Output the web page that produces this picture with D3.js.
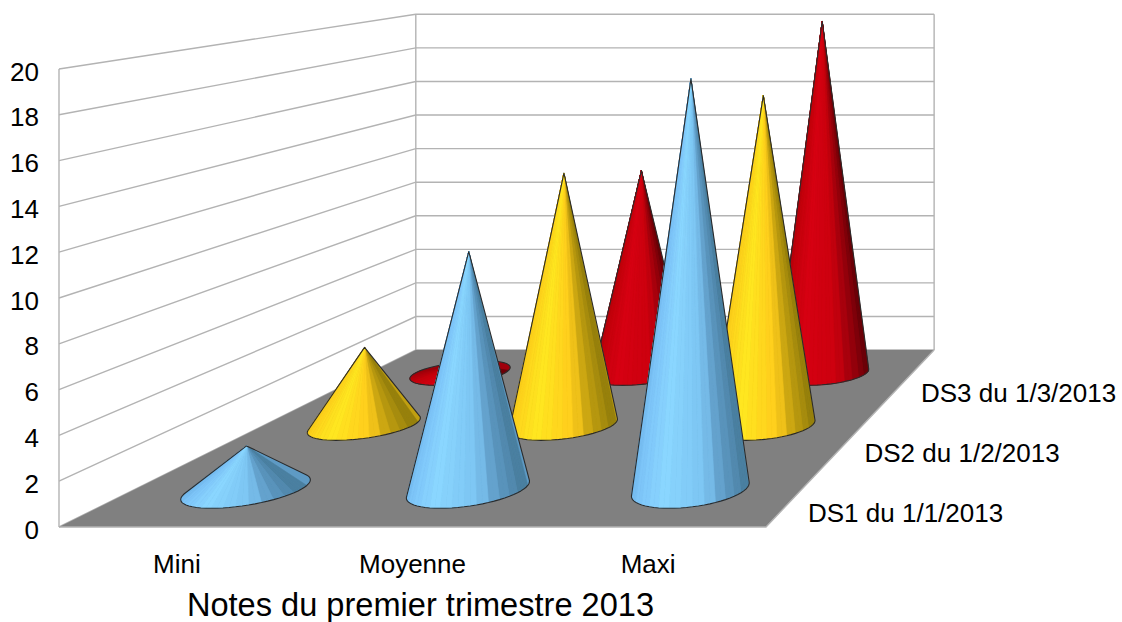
<!DOCTYPE html>
<html><head><meta charset="utf-8">
<style>html,body{margin:0;padding:0;background:#fff}svg{display:block}text{font-family:"Liberation Sans",Arial,sans-serif;fill:#000}</style>
<script src="https://cdn.jsdelivr.net/npm/d3@7"></script></head><body><svg id="c" width="1122" height="622"></svg>
<script>
const categories=["Mini","Moyenne","Maxi"];
const seriesNames=["DS1 du 1/1/2013","DS2 du 1/2/2013","DS3 du 1/3/2013"];
const ds1=[2,11,19];
const ds2=[4,13,17];
const ds3=[0.5,11.5,20];
const tickValues=[0,2,4,6,8,10,12,14,16,18,20];
const title="Notes du premier trimestre 2013";
const ramps=[
 ["#4a7fa0","#5e9ac4","#7cc4f2","#8ad6ff","#7cc4f8","#62a8dc"],
 ["#96800c","#c09f10","#ffcc1c","#ffe620","#fdd21c","#f0bc14"],
 ["#6a0008","#a0000c","#cc000f","#d60012","#c4000c","#98000a"]
];
const rampAngles=[5,35,55,95,130,180];

const svg=d3.select("#c");
const VX=1396,VY=-136,DEPTH=0.364;
const xFront=d3.scaleLinear().domain([0,1]).range([59,766]);
const yFront=d3.scaleLinear().domain([0,20]).range([527,69]);
const uScale=d3.scaleBand().domain(categories).range([0,1]);
const vScale=d3.scaleBand().domain(seriesNames).range([0,1]);
const project=(u,v,val)=>{const s=1/(1+DEPTH*v);return [VX+(xFront(u)-VX)*s,VY+(yFront(val)-VY)*s];};
const line=d3.line();
const GRID="#b3b3b3";

// walls
svg.selectAll(".gl").data(tickValues).join("path").attr("class","gl")
 .attr("d",d=>line([project(0,0,d),project(0,1,d),project(1,1,d)]))
 .attr("fill","none").attr("stroke",GRID).attr("stroke-width",1.4);
[[0,0],[0,1],[1,1]].forEach(a=>{
 svg.append("path").attr("d",line([project(a[0],a[1],0),project(a[0],a[1],20)])).attr("stroke",GRID).attr("stroke-width",1.4).attr("fill","none");
});
// floor
svg.append("path").attr("d",line([project(0,0,0),project(1,0,0),project(1,1,0),project(0,1,0)])+"Z")
 .attr("fill","#808080");
svg.append("path").attr("d",line([project(0,0,0),project(1,0,0),project(1,1,0)])).attr("fill","none").attr("stroke",GRID).attr("stroke-width",1.4);

// cones, back row first
const RU=0.0825,RV=0.087,STEPS=64;
const rows=[ds3,ds2,ds1];
const rowNames=[seriesNames[2],seriesNames[1],seriesNames[0]];
const rowRamp=[ramps[2],ramps[1],ramps[0]];
rows.forEach((vals,r)=>{
 const col=d3.scaleLinear().domain(rampAngles).range(rowRamp[r]).clamp(true);
 categories.forEach((cat,i)=>{
  const uc=uScale(cat)+uScale.bandwidth()/2, vc=vScale(rowNames[r])+vScale.bandwidth()/2;
  const apex=project(uc,vc,vals[i]);
  const ring=d3.range(STEPS).map(k=>{const a=k/STEPS*2*Math.PI;return {a,p:project(uc+RU*Math.cos(a),vc-RV*Math.sin(a),0)};});
  const hull=d3.polygonHull(ring.map(d=>d.p).concat([apex]));
  const g=svg.append("g");
  g.append("path").attr("d",line(hull)+"Z").attr("fill",rowRamp[r][1]);
  const front=d3.range(STEPS).filter(k=>{const m=(k+.5)/STEPS*360;return m<190||m>350;});
  front.sort((a,b)=>{const f=k=>Math.sin((k+.5)/STEPS*2*Math.PI);return f(a)-f(b);});
  const shade=k=>{const m=(k+.5)/STEPS*360;const a=m>270?m-360:m;return col(Math.floor(a/11.25)*11.25+5);};
  g.selectAll("path.f").data(front).join("path").attr("class","f")
   .attr("d",k=>line([apex,ring[k].p,ring[(k+1)%STEPS].p])+"Z")
   .attr("fill",shade).attr("stroke",shade).attr("stroke-width",0.6);
  g.append("path").attr("d",line(hull)+"Z").attr("fill","none").attr("stroke","#2b2b2b").attr("stroke-width",1.1).attr("stroke-linejoin","round");
 });
});

// labels
const seriesLabelX=d3.scalePoint().domain(seriesNames).range([808,921]);
const seriesLabelY=d3.scalePoint().domain(seriesNames).range([522,402]);
svg.selectAll(".ty").data(tickValues).join("text").attr("class","ty")
 .attr("x",39).attr("y",d=>yFront(d)+11.5).attr("text-anchor","end").attr("font-size",26).text(d=>d);
svg.selectAll(".tc").data(categories).join("text").attr("class","tc")
 .attr("x",d=>xFront(uScale(d)+uScale.bandwidth()/2)).attr("y",573).attr("text-anchor","middle").attr("font-size",26).text(d=>d);
svg.selectAll(".ts").data(seriesNames).join("text").attr("class","ts")
 .attr("x",d=>seriesLabelX(d)).attr("y",d=>seriesLabelY(d))
 .attr("font-size",26).text(d=>d);
svg.append("text").attr("x",420.5).attr("y",616).attr("text-anchor","middle").attr("font-size",32.6).text(title);
</script></body></html>
